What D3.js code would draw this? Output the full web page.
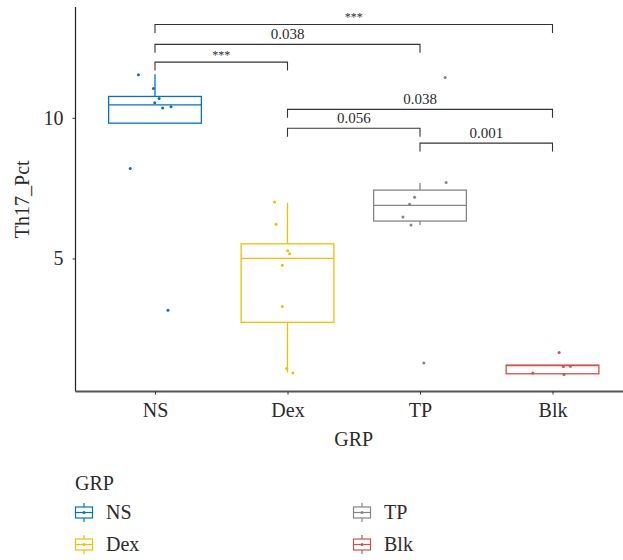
<!DOCTYPE html>
<html>
<head>
<meta charset="utf-8">
<script src="https://cdnjs.cloudflare.com/ajax/libs/d3/7.8.5/d3.min.js"></script>
<style>
  body { margin: 0; background: #fff; }
  svg text { font-family: 'Liberation Serif', 'Times New Roman', serif; fill: #2b2b2b; }
</style>
</head>
<body>
<div id="chart"></div>
<script>
// groups and colours (jco palette)
const groups = ['NS', 'Dex', 'TP', 'Blk'];
const colors = ['#0073C2', '#EFC000', '#868686', '#CD534C'];

// box stats
const q1     = [9.81, 2.73, 6.33, 0.90];
const median = [10.46, 5.00, 6.89, 1.19];
const q3     = [10.76, 5.52, 7.43, 1.21];
const whiskLo = [9.81, 0.95, 6.19, 0.90];
const whiskHi = [11.55, 6.98, 7.68, 1.21];

// jittered points: value and horizontal jitter (in category steps)
const nsVals  = [11.53, 11.04, 10.69, 10.54, 10.35, 10.39, 8.20, 3.16];
const nsJit   = [-0.125, -0.012, 0.031, -0.002, 0.058, 0.121, -0.187, 0.098];
const dexVals = [7.01, 6.22, 5.27, 5.17, 4.76, 3.29, 1.09, 0.93];
const dexJit  = [-0.097, -0.086, 0.001, 0.016, -0.039, -0.039, -0.007, 0.041];
const tpVals  = [11.43, 7.70, 7.18, 6.93, 6.47, 6.19, 1.28];
const tpJit   = [0.19, 0.197, -0.041, -0.079, -0.129, -0.068, 0.029];
const blkVals = [1.66, 1.16, 1.17, 0.93, 0.87];
const blkJit  = [0.05, 0.082, 0.135, -0.148, 0.087];

// significance brackets
const cmpFrom  = ['NS', 'NS', 'NS', 'Dex', 'Dex', 'TP'];
const cmpTo    = ['Dex', 'TP', 'Blk', 'TP', 'Blk', 'Blk'];
const cmpY     = [11.98, 12.61, 13.32, 9.63, 10.30, 9.10];
const cmpLabel = ['***', '0.038', '***', '0.056', '0.038', '0.001'];

const yTicks = [5, 10];
const yLimits = [0.27, 13.94];

const width = 623;
const height = 560;
const panel = { left: 75.5, right: 632, top: 7, bottom: 391.5 };

const svg = d3.select('#chart')
    .append('svg')
    .attr('width', width)
    .attr('height', height);

const x = d3.scalePoint()
    .domain(groups)
    .range([panel.left, panel.right])
    .padding(0.6);

const y = d3.scaleLinear()
    .domain(yLimits)
    .range([panel.bottom, panel.top]);

const color = d3.scaleOrdinal().domain(groups).range(colors);

const step = x.step();
const boxW = step * 0.7;

// boxes
const boxData = groups.map((g, i) => ({
    g: g, q1: q1[i], med: median[i], q3: q3[i], lo: whiskLo[i], hi: whiskHi[i]
}));

const boxes = svg.append('g')
    .selectAll('g')
    .data(boxData)
    .enter()
    .append('g')
    .attr('stroke', d => color(d.g))
    .attr('stroke-width', 1.3)
    .attr('fill', 'none');

boxes.append('line')
    .attr('x1', d => x(d.g)).attr('x2', d => x(d.g))
    .attr('y1', d => y(d.q3)).attr('y2', d => y(d.hi));
boxes.append('line')
    .attr('x1', d => x(d.g)).attr('x2', d => x(d.g))
    .attr('y1', d => y(d.q1)).attr('y2', d => y(d.lo));
boxes.append('rect')
    .attr('x', d => x(d.g) - boxW / 2)
    .attr('y', d => y(d.q3))
    .attr('width', boxW)
    .attr('height', d => y(d.q1) - y(d.q3))
    .attr('fill', '#fff');
boxes.append('line')
    .attr('x1', d => x(d.g) - boxW / 2).attr('x2', d => x(d.g) + boxW / 2)
    .attr('y1', d => y(d.med)).attr('y2', d => y(d.med));

// points
const allVals = [nsVals, dexVals, tpVals, blkVals];
const allJit = [nsJit, dexJit, tpJit, blkJit];
const points = [];
groups.forEach((g, i) => {
    allVals[i].forEach((v, j) => points.push({ g: g, v: v, j: allJit[i][j] }));
});

svg.append('g')
    .selectAll('circle')
    .data(points)
    .enter()
    .append('circle')
    .attr('cx', d => x(d.g) + d.j * step)
    .attr('cy', d => y(d.v))
    .attr('r', 1.5)
    .attr('fill', d => color(d.g));

// brackets
const tip = y(0) - y(0.3);
const brackets = svg.append('g')
    .selectAll('g')
    .data(cmpFrom.map((f, i) => ({ a: f, b: cmpTo[i], v: cmpY[i], label: cmpLabel[i] })))
    .enter()
    .append('g');

brackets.append('path')
    .attr('d', d => {
        const yy = y(d.v);
        return 'M' + x(d.a) + ',' + (yy + tip) + 'V' + yy + 'H' + x(d.b) + 'V' + (yy + tip);
    })
    .attr('fill', 'none')
    .attr('stroke', '#333')
    .attr('stroke-width', 1.1);

brackets.append('text')
    .attr('x', d => (x(d.a) + x(d.b)) / 2)
    .attr('y', d => y(d.v) - (d.label === '***' ? 3 : 5.5))
    .attr('text-anchor', 'middle')
    .style('font-size', d => d.label === '***' ? '12px' : '15px')
    .text(d => d.label);

// axes
const yAxis = svg.append('g')
    .attr('transform', 'translate(' + panel.left + ',0)')
    .call(d3.axisLeft(y).tickValues(yTicks).tickSize(3).tickPadding(9));
yAxis.attr('font-family', null).attr('font-size', null);
yAxis.select('.domain').attr('d', 'M0,' + panel.top + 'V' + panel.bottom)
    .attr('stroke', '#222').attr('stroke-width', 1.2);
yAxis.selectAll('.tick line').attr('stroke', '#333');
yAxis.selectAll('.tick text')
    .style('font-size', '20px')
    .attr('fill', '#2b2b2b');

const xAxis = svg.append('g')
    .attr('transform', 'translate(0,' + panel.bottom + ')')
    .call(d3.axisBottom(x).tickSize(3).tickPadding(8));
xAxis.attr('font-family', null).attr('font-size', null);
xAxis.select('.domain').attr('d', 'M' + panel.left + ',0H' + panel.right)
    .attr('stroke', '#555').attr('stroke-width', 1.8);
xAxis.selectAll('.tick line').attr('stroke', '#333');
xAxis.selectAll('.tick text')
    .style('font-size', '20px')
    .attr('fill', '#2b2b2b');

svg.append('text')
    .attr('x', (panel.left + panel.right) / 2)
    .attr('y', 446)
    .attr('text-anchor', 'middle')
    .style('font-size', '20px')
    .text('GRP');

svg.append('text')
    .attr('transform', 'translate(29,' + (panel.top + panel.bottom) / 2 + ') rotate(-90)')
    .attr('text-anchor', 'middle')
    .style('font-size', '20px')
    .text('Th17_Pct');

// legend
svg.append('text')
    .attr('x', 75)
    .attr('y', 490)
    .style('font-size', '20px')
    .text('GRP');

const legendX = [75, 353];
const legendY = [512.5, 544.5];
const keys = svg.append('g')
    .selectAll('g')
    .data(groups)
    .enter()
    .append('g')
    .attr('transform', (d, i) => 'translate(' + legendX[Math.floor(i / 2)] + ',' + legendY[i % 2] + ')');

keys.append('line')
    .attr('x1', 9).attr('x2', 9).attr('y1', -9.5).attr('y2', 9.5)
    .attr('stroke', d => color(d)).attr('stroke-width', 1.2);
keys.append('rect')
    .attr('x', 0.5).attr('y', -5.5).attr('width', 17).attr('height', 11)
    .attr('fill', '#fff')
    .attr('stroke', d => color(d)).attr('stroke-width', 1.2);
keys.append('line')
    .attr('x1', 0.5).attr('x2', 17.5).attr('y1', 0).attr('y2', 0)
    .attr('stroke', d => color(d)).attr('stroke-width', 1.2);
keys.append('circle')
    .attr('cx', 9).attr('cy', 0).attr('r', 1.5)
    .attr('fill', d => color(d));
keys.append('text')
    .attr('x', 31)
    .attr('y', 6.5)
    .style('font-size', '20px')
    .text(d => d);
</script>
</body>
</html>
